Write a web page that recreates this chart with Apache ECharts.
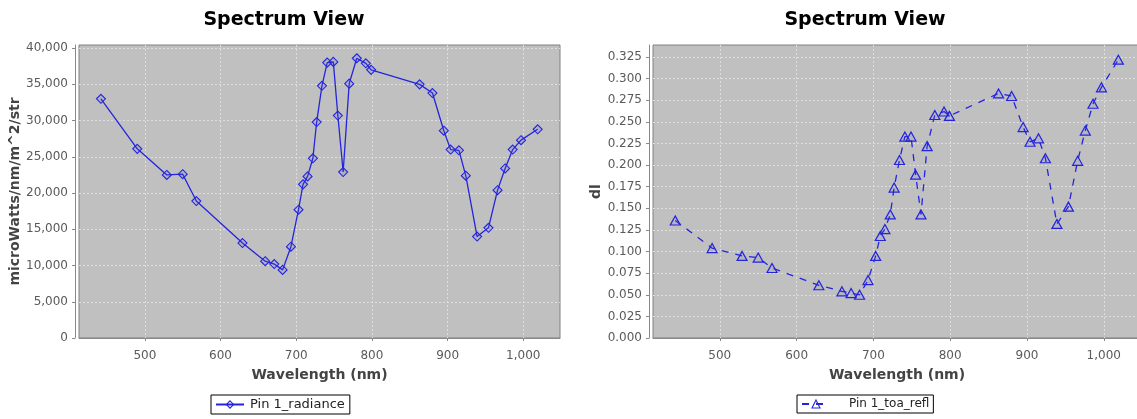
<!DOCTYPE html>
<html>
<head>
<meta charset="utf-8">
<script src="https://cdn.jsdelivr.net/npm/echarts@6/dist/echarts.min.js"></script>
<style>
html,body{margin:0;padding:0;background:#fff;}
#c{width:1137px;height:419px;}
</style>
</head>
<body>
<div id="c"></div>
<script>
// ---- data ----
const wavelengths = [442, 490, 529, 550, 568, 629, 659, 671, 682, 693, 703, 709, 715, 722, 727, 734, 741, 749, 755, 762, 770, 780, 792, 799, 863, 880, 895, 904, 915, 924, 939, 954, 966, 976, 986, 997, 1019];
const radiance = [33000, 26100, 22500, 22600, 18900, 13100, 10600, 10200, 9400, 12600, 17700, 21200, 22300, 24800, 29800, 34800, 38000, 38100, 30700, 22900, 35100, 38600, 37900, 37000, 35000, 33800, 28600, 26000, 25900, 22400, 14000, 15200, 20400, 23400, 26000, 27300, 28800];
const toaRefl = [0.136, 0.104, 0.095, 0.093, 0.081, 0.061, 0.054, 0.052, 0.050, 0.067, 0.095, 0.118, 0.126, 0.143, 0.174, 0.206, 0.233, 0.233, 0.189, 0.143, 0.222, 0.258, 0.262, 0.257, 0.283, 0.280, 0.244, 0.227, 0.231, 0.208, 0.132, 0.152, 0.205, 0.240, 0.271, 0.290, 0.322];
const xTicks = [500, 600, 700, 800, 900, 1000];
const radianceTicks = [0, 5000, 10000, 15000, 20000, 25000, 30000, 35000, 40000];
const reflTicks = [0, 0.025, 0.05, 0.075, 0.1, 0.125, 0.15, 0.175, 0.2, 0.225, 0.25, 0.275, 0.3, 0.325];
const titles = ['Spectrum View', 'Spectrum View'];
const seriesNames = ['Pin 1_radiance', 'Pin 1_toa_refl'];

const FONT = 'DejaVu Sans';
const blue = '#2424dc';
const fmtComma = v => Number(v).toLocaleString('en-US');

function xAxisCfg(gi) {
  return {
    type: 'value', gridIndex: gi, min: 413, max: 1048.5, offset: 4,
    name: 'Wavelength (nm)', nameLocation: 'middle', nameGap: 26,
    nameTextStyle: {fontFamily: FONT, fontSize: 14, fontWeight: 'bold', color: '#444'},
    axisLine: {show: true, lineStyle: {color: '#888', width: 1}},
    axisTick: {show: true, length: 3, inside: false, customValues: xTicks, lineStyle: {color: '#888'}},
    axisLabel: {customValues: xTicks, margin: 8, fontFamily: FONT, fontSize: 12, color: '#5a5a5a', formatter: fmtComma},
    splitLine: {show: true, lineStyle: {color: '#dedede', width: 1, type: [2, 2]}}
  };
}
function yAxisCfg(gi, name, max, ticks, fmt, gap) {
  return {
    type: 'value', gridIndex: gi, min: 0, max: max, offset: 4,
    name: name, nameLocation: 'middle', nameGap: gap, nameRotate: 90,
    nameTextStyle: {fontFamily: FONT, fontSize: 14, fontWeight: 'bold', color: '#444'},
    axisLine: {show: true, lineStyle: {color: '#888', width: 1}},
    axisTick: {show: true, length: 3, inside: false, customValues: ticks, lineStyle: {color: '#888'}},
    axisLabel: {customValues: ticks, margin: 7, fontFamily: FONT, fontSize: 12, color: '#5a5a5a', formatter: fmt},
    splitLine: {show: true, lineStyle: {color: '#dedede', width: 1, type: [2, 2]}}
  };
}

const chart = echarts.init(document.getElementById('c'), null, {renderer: 'canvas'});
chart.setOption({
  backgroundColor: '#ffffff',
  animation: false,
  graphic: [
    {type: 'text', x: 284, y: 11, style: {text: titles[0], fontFamily: FONT, fontSize: 19, fontWeight: 'bold', fill: '#000', align: 'center', textAlign: 'center'}},
    {type: 'text', x: 865, y: 11, style: {text: titles[1], fontFamily: FONT, fontSize: 19, fontWeight: 'bold', fill: '#000', align: 'center', textAlign: 'center'}}
  ],
  grid: [
    {left: 79, top: 45, width: 481, height: 293, show: true, backgroundColor: '#c0c0c0', borderColor: '#808080', borderWidth: 1, containLabel: false, outerBoundsMode: 'none'},
    {left: 653, top: 45, width: 488, height: 293, show: true, backgroundColor: '#c0c0c0', borderColor: '#808080', borderWidth: 1, containLabel: false, outerBoundsMode: 'none'}
  ],
  xAxis: [xAxisCfg(0), xAxisCfg(1)],
  yAxis: [
    yAxisCfg(0, 'microWatts/nm/m^2/str', 40430, radianceTicks, fmtComma, 52),
    yAxisCfg(1, 'dl', 0.339, reflTicks, v => Number(v).toFixed(3), 45)
  ],
  legend: [
    {data: [seriesNames[0]], left: 211, top: 395, orient: 'horizontal', itemWidth: 28, itemHeight: 9,
     padding: [3, 5, 3, 4], borderColor: '#000', borderWidth: 1, borderRadius: 0, backgroundColor: '#fff',
     itemStyle: {color: 'rgba(255,255,255,0)', borderColor: blue, borderWidth: 1.1},
     textStyle: {fontFamily: FONT, fontSize: 13, color: '#222', padding: [0, 0, 0, 1]}},
    {data: [seriesNames[1]], left: 797, top: 395, orient: 'horizontal', itemWidth: 28, itemHeight: 10,
     padding: [3, 4, 3, 4], borderColor: '#000', borderWidth: 1, borderRadius: 0, backgroundColor: '#fff',
     itemStyle: {color: 'rgba(255,255,255,0)', borderColor: blue, borderWidth: 1.1},
     textStyle: {fontFamily: FONT, fontSize: 12, color: '#222', padding: [0, 0, 0, 14]}}
  ],
  series: [
    {
      name: seriesNames[0], type: 'line', xAxisIndex: 0, yAxisIndex: 0,
      data: wavelengths.map((w, i) => [w, radiance[i]]),
      symbol: 'diamond', symbolSize: 9, showAllSymbol: true,
      lineStyle: {color: blue, width: 1.3},
      itemStyle: {color: 'rgba(90,90,220,0.15)', borderColor: blue, borderWidth: 1.1},
      emphasis: {disabled: true}
    },
    {
      name: seriesNames[1], type: 'line', xAxisIndex: 1, yAxisIndex: 1,
      data: wavelengths.map((w, i) => [w, toaRefl[i]]),
      symbol: 'triangle', symbolSize: [10, 9], showAllSymbol: true,
      lineStyle: {color: blue, width: 1.3, type: [7, 7]},
      itemStyle: {color: 'rgba(90,90,220,0.1)', borderColor: blue, borderWidth: 1.2},
      emphasis: {disabled: true}
    }
  ]
});
</script>
</body>
</html>
